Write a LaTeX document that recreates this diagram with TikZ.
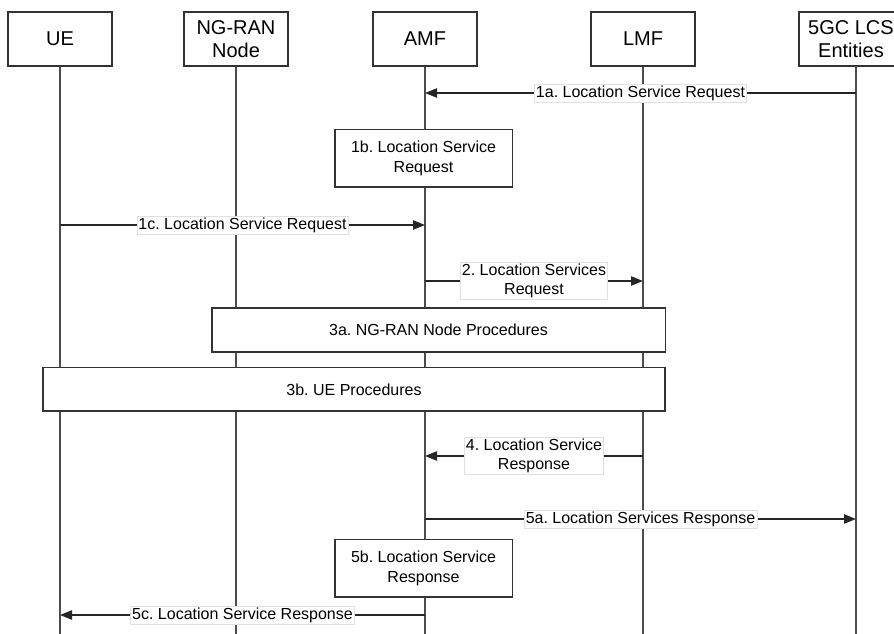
\documentclass[tikz,border=0pt]{standalone}
\usepackage{fontspec}
\setmainfont{Liberation Sans}
\usetikzlibrary{arrows.meta}
\frenchspacing

\tikzset{
  entity/.style={draw=black!80, fill=white, line width=1pt, minimum width=78pt, minimum height=40.5pt,
    align=center, inner sep=1pt, font=\fontsize{15}{17.5}\selectfont},
  procbox/.style={draw=black!80, fill=white, line width=1pt, align=center,
    font=\fontsize{12}{14.5}\selectfont},
  lifeline/.style={draw=black!70, line width=1pt},
  msg/.style={draw=black!85, line width=0.9pt, -{Triangle[length=9pt,width=7pt]}},
  msglabel/.style={fill=white, draw=black!12, line width=0.4pt, inner sep=1.2pt, align=center,
    font=\fontsize{12}{14.5}\selectfont}
}

\begin{document}
\begin{tikzpicture}[x=0.75pt,y=-0.75pt]
  \useasboundingbox (0,0) rectangle (894,634);

  % entities
  \node[entity] (ue) at (60,39) {UE};
  \node[entity] (ngran) at (236,39) {NG-RAN\\Node};
  \node[entity] (amf) at (425,39) {AMF};
  \node[entity] (lmf) at (643,39) {LMF};
  \node[entity] (lcs) at (851,39) {5GC LCS\\Entities};

  % lifelines
  \coordinate (bottom) at (0,634);
  \coordinate (lcsline) at (856,66);
  \draw[lifeline] (ue.south) -- (ue.south |- bottom);
  \draw[lifeline] (ngran.south) -- (ngran.south |- bottom);
  \draw[lifeline] (amf.south) -- (amf.south |- bottom);
  \draw[lifeline] (lmf.south) -- (lmf.south |- bottom);
  \draw[lifeline] (lcsline) -- (lcsline |- bottom);

  % message rows
  \coordinate (r1a) at (0,93);
  \coordinate (r1c) at (0,225);
  \coordinate (r2) at (0,281);
  \coordinate (r4) at (0,456);
  \coordinate (r5a) at (0,519);
  \coordinate (r5c) at (0,615);

  % 1
  \draw[msg] (lcsline |- r1a) -- node[msglabel] {1a. Location Service Request} (amf |- r1a);
  \node[procbox, minimum width=133pt, minimum height=43pt] (req1b) at (423.5,158.5)
    {1b. Location Service\\Request};
  \draw[msg] (ue |- r1c) -- node[msglabel] {1c. Location Service Request} (amf |- r1c);

  % 2
  \draw[msg] (amf |- r2) -- node[msglabel] {2. Location Services\\Request} (lmf |- r2);

  % 3
  \node[procbox, minimum width=340pt, minimum height=33pt] (proc3a) at (438.5,330)
    {3a. NG-RAN Node Procedures};
  \node[procbox, minimum width=466.5pt, minimum height=32.5pt] (proc3b) at (354,389.5)
    {3b. UE Procedures};

  % 4
  \draw[msg] (lmf |- r4) -- node[msglabel] {4. Location Service\\Response} (amf |- r4);

  % 5
  \draw[msg] (amf |- r5a) -- node[msglabel] {5a. Location Services Response} (lcsline |- r5a);
  \node[procbox, minimum width=133pt, minimum height=43pt] (resp5b) at (423.5,568.5)
    {5b. Location Service\\Response};
  \draw[msg] (amf |- r5c) -- node[msglabel] {5c. Location Service Response} (ue |- r5c);
\end{tikzpicture}
\end{document}
